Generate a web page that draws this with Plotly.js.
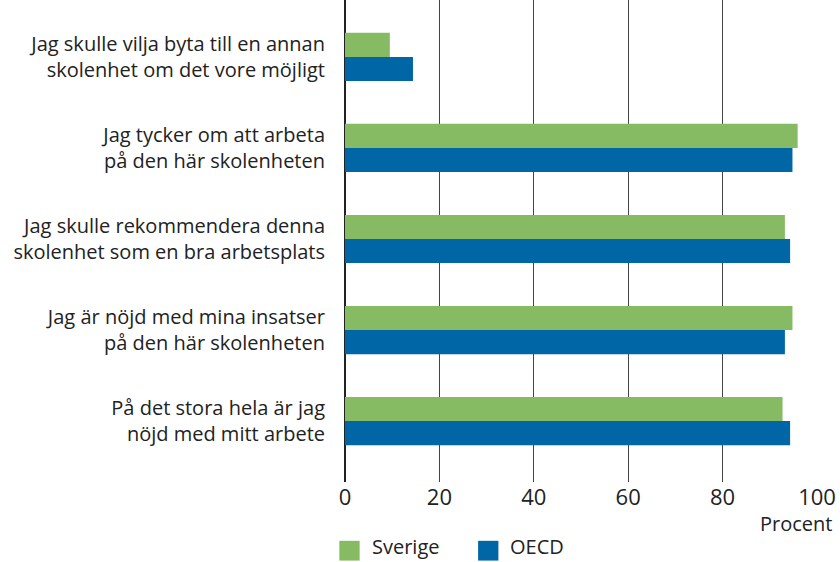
<!DOCTYPE html>
<html><head><meta charset="utf-8">
<script src="https://cdn.plot.ly/plotly-3.0.1.min.js"></script>
<style>html,body{margin:0;padding:0;background:#fff}#chart{width:840px;height:562px}</style>
</head><body><div id="chart"></div>
<script>
const categories = [
  "Jag skulle vilja byta till en annan<br>skolenhet om det vore möjligt",
  "Jag tycker om att arbeta<br>på den här skolenheten",
  "Jag skulle rekommendera denna<br>skolenhet som en bra arbetsplats",
  "Jag är nöjd med mina insatser<br>på den här skolenheten",
  "På det stora hela är jag<br>nöjd med mitt arbete"
];
const sverige = [9.5, 95.9, 93.2, 94.8, 92.7];
const oecd = [14.4, 94.8, 94.3, 93.2, 94.3];
const seriesNames = ["Sverige", "OECD"];
const colors = ["#86bb64", "#0066a6"];
const xTicks = [0, 20, 40, 60, 80, 100];
const xUnit = "Procent";

const font = "Open Sans, Liberation Sans, Arial, sans-serif";
const traces = [sverige, oecd].map((v, i) => ({
  type: "bar", orientation: "h", x: v, y: categories, name: seriesNames[i],
  marker: {color: colors[i], line: {width: 0}}, showlegend: false, hoverinfo: "skip"
}));

const shapes = [], annotations = [];
const legX = [0.0, 0.294];
seriesNames.forEach((n, i) => {
  shapes.push({type: "rect", xref: "paper", yref: "paper",
    x0: legX[i] - 0.012, x1: legX[i] + 0.031, y0: -0.163, y1: -0.122,
    fillcolor: colors[i], line: {width: 0}});
  annotations.push({xref: "paper", yref: "paper", x: legX[i] + 0.052, y: -0.134,
    text: n, showarrow: false, xanchor: "left", yanchor: "middle",
    font: {family: font, size: 20, color: "#222"}});
});
annotations.push({xref: "paper", yref: "paper", x: 1.035, y: -0.087, text: xUnit,
  showarrow: false, xanchor: "right", yanchor: "middle",
  font: {family: font, size: 20, color: "#222"}});

const layout = {
  width: 840, height: 562,
  margin: {l: 345, r: 23, t: 0, b: 80},
  paper_bgcolor: "#fff", plot_bgcolor: "#fff",
  barmode: "group", bargap: 0.47, bargroupgap: 0,
  font: {family: font, size: 20, color: "#222"},
  xaxis: {range: [0, 100], tickvals: xTicks, showgrid: true, gridcolor: "#444", gridwidth: 1.3,
    zeroline: true, zerolinecolor: "#222", zerolinewidth: 1.5, showline: false,
    ticks: "", tickfont: {family: font, size: 22, color: "#222"}, fixedrange: true},
  yaxis: {type: "category", categoryorder: "array", categoryarray: categories,
    range: [4.67, -0.626], showgrid: false, zeroline: false, showline: false, ticks: "",
    ticklabelstandoff: 19, tickfont: {family: font, size: 20, color: "#222"}, fixedrange: true},
  shapes: shapes, annotations: annotations, showlegend: false
};
Plotly.newPlot("chart", traces, layout, {displayModeBar: false, staticPlot: true});
</script></body></html>
